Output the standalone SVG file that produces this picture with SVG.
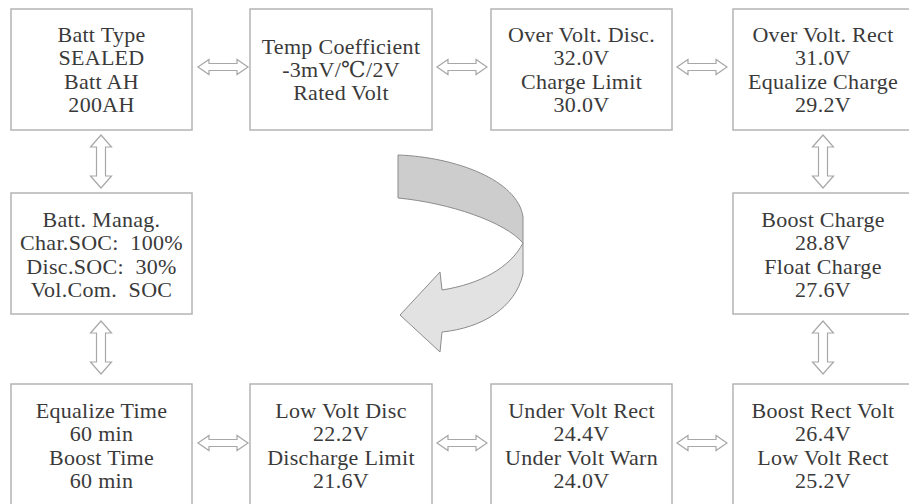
<svg xmlns="http://www.w3.org/2000/svg" xmlns:xlink="http://www.w3.org/1999/xlink" width="909" height="504" viewBox="0 0 909 504">
<style>
.box{fill:#fff;stroke:#b4b4b4;stroke-width:1.5}
.t{font-family:"Liberation Serif","Times New Roman","DejaVu Serif",serif;font-size:22px;fill:#3a3a3a;text-anchor:middle;letter-spacing:0.3px;white-space:pre}
.arr{fill:#fff;stroke:#a8a8a8;stroke-width:1.2;stroke-linejoin:miter}
</style>
<defs>
<path id="ha" d="M0,0 L11,-7.5 L11,-3.5 L39,-3.5 L39,-7.5 L50,0 L39,7.5 L39,3.5 L11,3.5 L11,7.5 Z"/>
<path id="va" d="M0,0 L10.5,12 L4.5,12 L4.5,41 L10.5,41 L0,53 L-10.5,41 L-4.5,41 L-4.5,12 L-10.5,12 Z"/>
</defs>
<rect width="909" height="504" fill="#fff"/>
<g id="connectors">
<use href="#ha" class="arr" x="198" y="67"/>
<use href="#ha" class="arr" x="437" y="67"/>
<use href="#ha" class="arr" x="677" y="67"/>
<use href="#ha" class="arr" x="198" y="443"/>
<use href="#ha" class="arr" x="437" y="443"/>
<use href="#ha" class="arr" x="677" y="443"/>
<use href="#va" class="arr" x="101" y="135"/>
<use href="#va" class="arr" x="101" y="321"/>
<use href="#va" class="arr" x="823" y="135"/>
<use href="#va" class="arr" x="823" y="321"/>
</g>
<g id="flow-arrow">
<path d="M398,155 C455,157 518,180 523,217 L523,243 C505,222 450,203 398,198 Z" fill="#cdcdcd" stroke="#8c8c8c" stroke-width="1"/>
<path d="M523,243 L523,274 C515,308 482,328 442,332 L440,352 L400,315 L440,272 L442,290 C480,284 510,268 523,243 Z" fill="#e2e2e2" stroke="#8c8c8c" stroke-width="1"/>
</g>
<g id="n1"><rect class="box" x="11" y="9" width="181" height="121"/>
<text class="t" x="101.5" y="42">Batt Type</text><text class="t" x="101.5" y="65">SEALED</text><text class="t" x="101.5" y="88.5">Batt AH</text><text class="t" x="101.5" y="112">200AH</text></g>
<g id="n2"><rect class="box" x="250" y="9" width="182" height="121"/>
<text class="t" x="341" y="54">Temp Coefficient</text><text class="t" x="341" y="77">-3mV/℃/2V</text><text class="t" x="341" y="100">Rated Volt</text></g>
<g id="n3"><rect class="box" x="491" y="9" width="181" height="121"/>
<text class="t" x="581.5" y="42">Over Volt. Disc.</text><text class="t" x="581.5" y="65">32.0V</text><text class="t" x="581.5" y="88.5">Charge Limit</text><text class="t" x="581.5" y="112">30.0V</text></g>
<g id="n4"><rect class="box" x="733" y="9" width="181" height="121"/>
<text class="t" x="823" y="42">Over Volt. Rect</text><text class="t" x="823" y="65">31.0V</text><text class="t" x="823" y="88.5">Equalize Charge</text><text class="t" x="823" y="112">29.2V</text></g>
<g id="n5"><rect class="box" x="11" y="193" width="181" height="121"/>
<text class="t" x="101.5" y="227">Batt. Manag.</text><text class="t" x="101.5" y="250" xml:space="preserve">Char.SOC:  100%</text><text class="t" x="101.5" y="273.5" xml:space="preserve">Disc.SOC:  30%</text><text class="t" x="101.5" y="297" xml:space="preserve">Vol.Com.  SOC</text></g>
<g id="n6"><rect class="box" x="733" y="193" width="181" height="121"/>
<text class="t" x="823" y="227">Boost Charge</text><text class="t" x="823" y="250">28.8V</text><text class="t" x="823" y="273.5">Float Charge</text><text class="t" x="823" y="297">27.6V</text></g>
<g id="n7"><rect class="box" x="11" y="384" width="181" height="126"/>
<text class="t" x="101.5" y="418">Equalize Time</text><text class="t" x="101.5" y="441">60 min</text><text class="t" x="101.5" y="464.5">Boost Time</text><text class="t" x="101.5" y="488">60 min</text></g>
<g id="n8"><rect class="box" x="250" y="384" width="182" height="126"/>
<text class="t" x="341" y="418">Low Volt Disc</text><text class="t" x="341" y="441">22.2V</text><text class="t" x="341" y="464.5">Discharge Limit</text><text class="t" x="341" y="488">21.6V</text></g>
<g id="n9"><rect class="box" x="491" y="384" width="181" height="126"/>
<text class="t" x="581.5" y="418">Under Volt Rect</text><text class="t" x="581.5" y="441">24.4V</text><text class="t" x="581.5" y="464.5">Under Volt Warn</text><text class="t" x="581.5" y="488">24.0V</text></g>
<g id="n10"><rect class="box" x="733" y="384" width="181" height="126"/>
<text class="t" x="823" y="418">Boost Rect Volt</text><text class="t" x="823" y="441">26.4V</text><text class="t" x="823" y="464.5">Low Volt Rect</text><text class="t" x="823" y="488">25.2V</text></g>
</svg>
